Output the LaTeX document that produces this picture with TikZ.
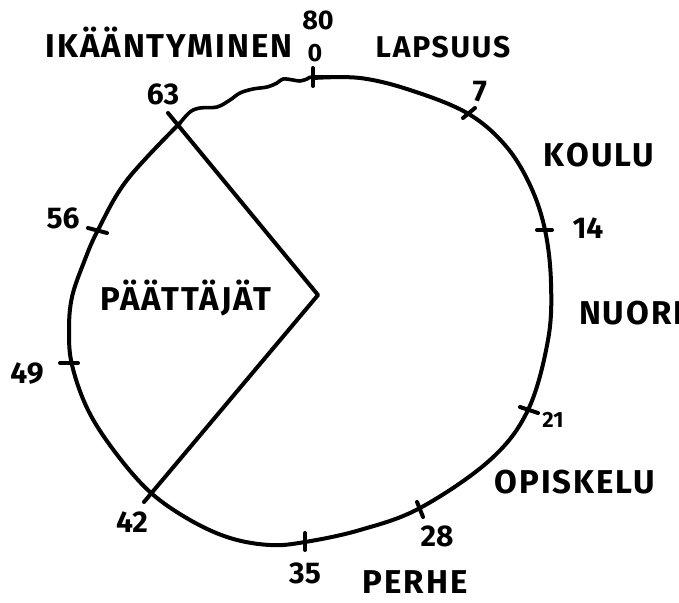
\documentclass[tikz,border=0pt]{standalone}
\usepackage{fontspec}
\setmainfont{Fira Sans}
\begin{document}
\begin{tikzpicture}[x=1pt,y=-1pt, line width=4pt, line cap=round, line join=round,
  lbl/.style={font=\fontsize{33}{33}\selectfont\bfseries\addfontfeature{LetterSpace=6}, inner sep=0pt},
  num/.style={font=\fontsize{30}{30}\selectfont\bfseries, inner sep=0pt}]
\useasboundingbox (0,0) rectangle (679,602);
\clip (0,0) rectangle (679,602);
% main ring
\draw plot[smooth, tension=0.6] coordinates {(313,78) (360,78) (410,90) (467,113) (505,145) (530,185) (545,230) (551,283) (548,340) (528,410) (490,460) (420,508) (360,530) (305,542) (270,545) (230,538) (190,520) (150,492) (115,452) (88,410) (72,365) (69,330) (72,297) (84,262) (98,230) (127,180) (180,123)};
% wavy part
\draw[line width=3.6pt] plot[smooth, tension=0.6] coordinates {(180,123) (190,112) (200,108) (217,107) (230,100) (240,93) (253,89) (267,87) (277,83) (283,79) (293,80) (300,81) (307,79) (313,77) (340,77)};
% wedge
\coordinate (c) at (318,295);
\coordinate (w1) at (168,113);
\coordinate (w2) at (144,502);
\draw (w1) -- (c) -- (w2);
% ticks
\draw (313,68) -- (313,86);
\draw (463,118) -- (475,108);
\draw (537,230) -- (552,230);
\draw (520,407) -- (538,413);
\draw (417,502) -- (423,517);
\draw (305,533) -- (305,550);
\draw (60,363) -- (78,363);
\draw (88,228) -- (107,233);
% labels
\node[num, font=\fontsize{27}{27}\selectfont\bfseries] (n80) at (318,20) {80};
\node[num, font=\fontsize{25}{25}\selectfont\bfseries] (n0) at (315,53) {0};
\node[lbl] (ika) at (169,42) {IKÄÄNTYMINEN};
\node[lbl, font=\fontsize{30}{30}\selectfont\bfseries\addfontfeature{LetterSpace=6}] (lap) at (443,47) {LAPSUUS};
\node[num] (n63) at (163,94) {63};
\node[num] (n7) at (480,92) {7};
\node[lbl] (kou) at (599,155) {KOULU};
\node[num] (n14) at (588,228) {14};
\node[lbl, anchor=west] (nuo) at (577,313) {NUORI};
\node[num, font=\fontsize{22}{22}\selectfont\bfseries] (n21) at (553,420) {21};
\node[lbl] (opi) at (575,482) {OPISKELU};
\node[num] (n28) at (437,536) {28};
\node[num] (n35) at (305,573) {35};
\node[lbl] (per) at (415,582) {PERHE};
\node[num] (n42) at (132,522) {42};
\node[num] (n49) at (27,374) {49};
\node[num] (n56) at (63,218) {56};
\node[lbl] (paa) at (186,298) {PÄÄTTÄJÄT};
\end{tikzpicture}
\end{document}
